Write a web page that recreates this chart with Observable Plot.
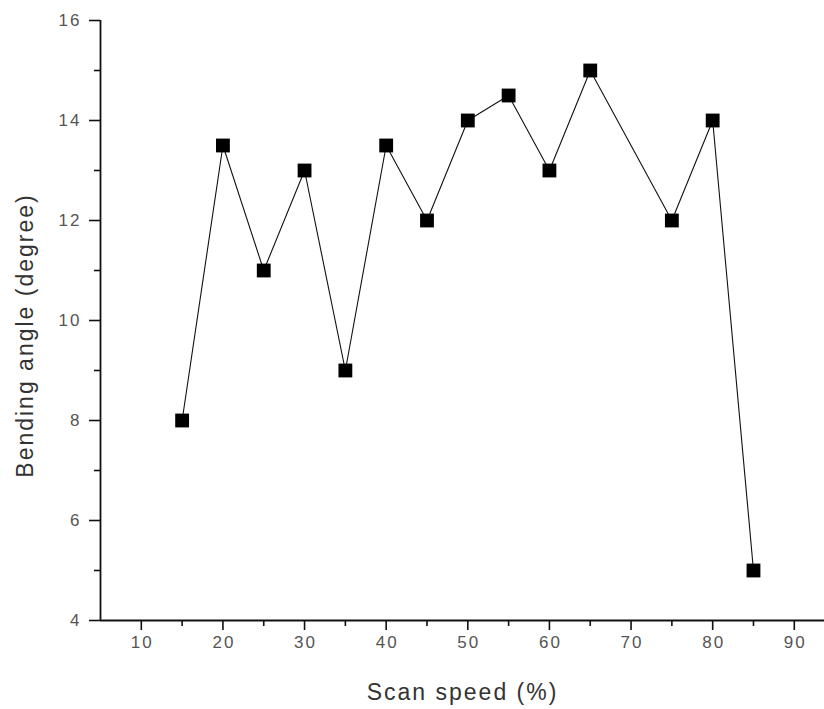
<!DOCTYPE html>
<html>
<head>
<meta charset="utf-8">
<script src="https://cdn.jsdelivr.net/npm/d3@7"></script>
<script src="https://cdn.jsdelivr.net/npm/@observablehq/plot@0.6"></script>
<style>
  html, body { margin: 0; padding: 0; background: #fff; }
  #chart { width: 824px; height: 709px; }
  .ytitle, .xtitle { letter-spacing: 2px; }
  .ticklab { letter-spacing: 2px; }
</style>
</head>
<body>
<div id="chart"></div>
<script>
const scanSpeed = [15, 20, 25, 30, 35, 40, 45, 50, 55, 60, 65, 75, 80, 85];
const bendingAngle = [8, 13.5, 11, 13, 9, 13.5, 12, 14, 14.5, 13, 15, 12, 14, 5];
const xMajorTicks = [10, 20, 30, 40, 50, 60, 70, 80, 90];
const xMinorTicks = [15, 25, 35, 45, 55, 65, 75, 85];
const yMajorTicks = [4, 6, 8, 10, 12, 14, 16];
const yMinorTicks = [5, 7, 9, 11, 13, 15];
const xTitle = "Scan speed (%)";
const yTitle = "Bending angle (degree)";

const data = scanSpeed.map((s, i) => ({speed: s, angle: bendingAngle[i]}));

const chart = Plot.plot({
  width: 824,
  height: 709,
  marginLeft: 100,
  marginRight: 0,
  marginTop: 20,
  marginBottom: 89,
  style: {fontFamily: "'Liberation Sans', Arial, sans-serif", background: "#fff"},
  x: {domain: [5, 93.7]},
  y: {domain: [4, 16]},
  marks: [
    Plot.axisX({ticks: xMajorTicks, tickSize: 10, text: null, stroke: "#111", strokeWidth: 1.6, label: null}),
    Plot.axisX({ticks: xMinorTicks, tickSize: 6, text: null, label: null, stroke: "#111", strokeWidth: 1.6}),
    Plot.axisY({ticks: yMajorTicks, tickSize: 11, text: null, stroke: "#111", strokeWidth: 1.6, label: null}),
    Plot.axisY({ticks: yMinorTicks, tickSize: 6, text: null, label: null, stroke: "#111", strokeWidth: 1.6}),
    Plot.text(xMajorTicks, {x: d => d, frameAnchor: "bottom", dy: 27, dx: 1, text: d => String(d), fontSize: 17, fill: "#555", textAnchor: "middle", className: "ticklab"}),
    Plot.text(yMajorTicks, {y: d => d, frameAnchor: "left", dx: -19, text: d => String(d), fontSize: 17, fill: "#555", textAnchor: "end", className: "ticklab"}),
    Plot.ruleY([4], {stroke: "#111", strokeWidth: 1.8}),
    Plot.ruleX([5], {stroke: "#111", strokeWidth: 1.8}),
    Plot.line(data, {x: "speed", y: "angle", stroke: "#111", strokeWidth: 1.1}),
    Plot.dot(data, {x: "speed", y: "angle", symbol: "square", r: 7.8, fill: "#000", stroke: "none"}),
    Plot.text([xTitle], {frameAnchor: "bottom", dy: 79, text: d => d, fontSize: 23, fill: "#333", textAnchor: "middle", lineAnchor: "bottom", className: "xtitle"}),
    Plot.text([yTitle], {frameAnchor: "left", dx: -75, dy: 15, rotate: -90, text: d => d, fontSize: 23, fill: "#333", textAnchor: "middle", className: "ytitle"})
  ]
});
document.getElementById("chart").appendChild(chart);
</script>
</body>
</html>
